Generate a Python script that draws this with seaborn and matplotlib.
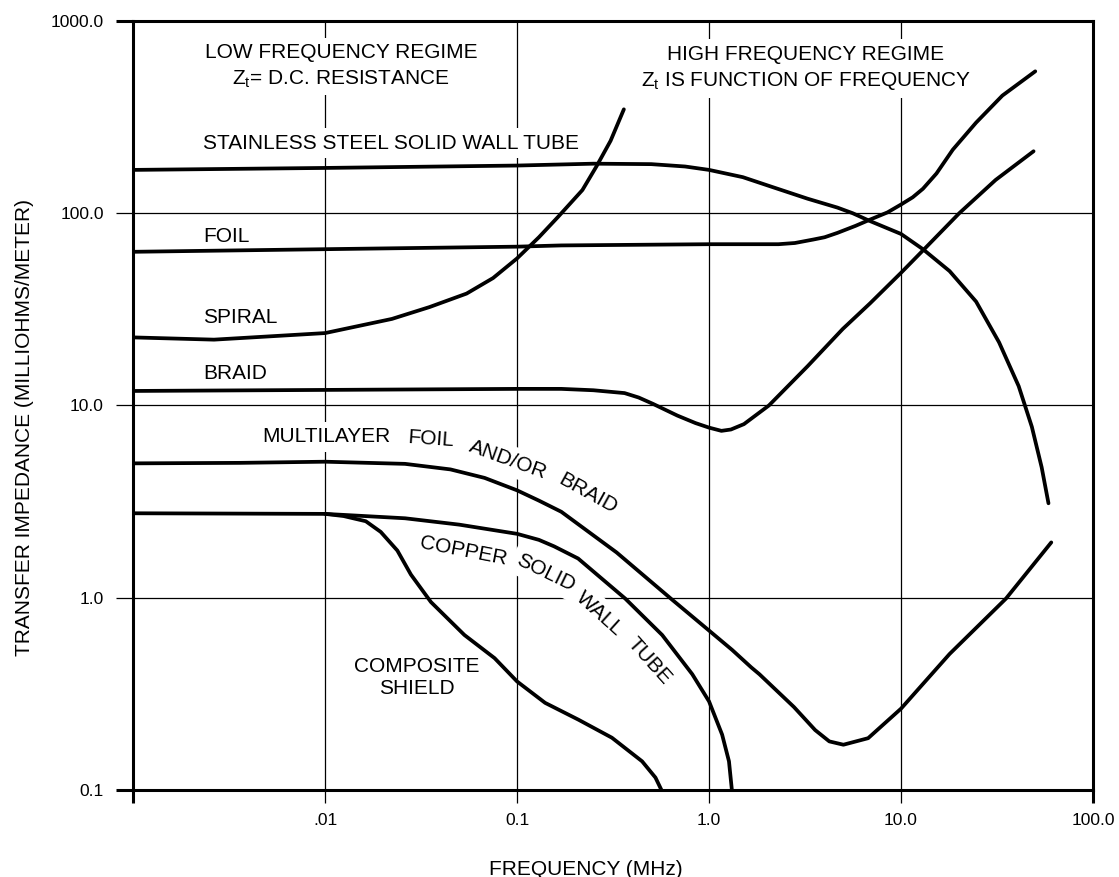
import numpy as np
import pandas as pd
import seaborn as sns
import matplotlib.pyplot as plt
from matplotlib.ticker import NullLocator

# values (frequency in MHz, impedance in milliohms/meter)
ss_f = [0.001, 0.01, 0.1, 0.25, 0.5, 0.75, 1.0, 1.5, 2.13, 3.26, 4.66, 5.6, 6.9, 10, 13, 17.9,
        24.6, 32.4, 41, 48, 54, 58.6]
ss_z = [168, 172, 177, 181, 180, 175, 168, 154, 137, 119, 107, 100, 91, 78, 65, 50,
        34.7, 21.3, 12.6, 7.75, 4.77, 3.1]

foil_f = [0.001, 0.01, 0.1, 0.17, 1.0, 2.3, 2.8, 3.5, 4.0, 4.66, 5.8, 6.96, 8.5, 10, 11.5, 13,
          15.3, 18.6, 24.6, 33.7, 50]
foil_z = [63, 65, 67, 68, 69, 69, 70, 73, 75, 79, 86, 93, 101, 111, 121, 134,
          161, 214, 296, 409, 547]

spiral_f = [0.001, 0.00264, 0.01, 0.0223, 0.035, 0.0546, 0.075, 0.1, 0.13, 0.164, 0.219, 0.259,
            0.307, 0.36]
spiral_z = [22.6, 22.0, 23.8, 28.2, 32.5, 38.2, 46, 58.2, 75, 96, 132, 175, 238, 347]

braid_f = [0.001, 0.1, 0.17, 0.25, 0.363, 0.43, 0.51, 0.684, 0.85, 1.0, 1.16, 1.3, 1.52, 2.05,
           3.26, 4.97, 6.9, 10, 13, 20.1, 31.1, 49]
braid_z = [11.9, 12.2, 12.2, 12.0, 11.6, 11.0, 10.2, 8.86, 8.1, 7.67, 7.38, 7.5, 8.0, 10,
           16, 25, 34, 49, 64, 100, 149, 210]

multi_f = [0.001, 0.0036, 0.01, 0.0261, 0.045, 0.0678, 0.1, 0.13, 0.17, 0.33, 0.64, 1.0, 1.32,
           1.66, 1.83, 2.77, 3.57, 4.23, 5.01, 6.74, 10, 17.9, 35.2, 60.6]
multi_z = [5.0, 5.03, 5.1, 4.97, 4.65, 4.2, 3.62, 3.2, 2.8, 1.72, 0.98, 0.675, 0.535,
           0.434, 0.40, 0.27, 0.205, 0.179, 0.172, 0.186, 0.265, 0.51, 0.99, 1.94]

copper_f = [0.001, 0.01, 0.0261, 0.05, 0.1, 0.13, 0.156, 0.208, 0.366, 0.57, 0.818, 1.0, 1.17,
            1.27, 1.315]
copper_z = [2.75, 2.73, 2.59, 2.4, 2.15, 2.0, 1.85, 1.6, 0.99, 0.64, 0.40, 0.289, 0.194,
            0.141, 0.1]

comp_f = [0.01, 0.0125, 0.0163, 0.0195, 0.0238, 0.028, 0.0356, 0.0532, 0.0764, 0.1, 0.14, 0.209,
          0.312, 0.448, 0.526, 0.565]
comp_z = [2.73, 2.66, 2.5, 2.2, 1.76, 1.32, 0.95, 0.64, 0.485, 0.367, 0.284, 0.232, 0.187, 0.141,
          0.116, 0.1]

x_ticks = [0.001, 0.01, 0.1, 1.0, 10.0, 100.0]
x_tick_labels = ['', '.01', '0.1', '1.0', '10.0', '100.0']
y_ticks = [0.1, 1.0, 10.0, 100.0, 1000.0]
y_tick_labels = ['0.1', '1.0', '10.0', '100.0', '1000.0']

curves = {
    'stainless': (ss_f, ss_z),
    'foil': (foil_f, foil_z),
    'spiral': (spiral_f, spiral_z),
    'braid': (braid_f, braid_z),
    'multilayer': (multi_f, multi_z),
    'copper': (copper_f, copper_z),
    'composite': (comp_f, comp_z),
}

sns.set_style('white')
plt.rcParams['font.family'] = ['Liberation Sans', 'DejaVu Sans']
plt.rcParams['mathtext.fontset'] = 'custom'
plt.rcParams['mathtext.rm'] = 'Liberation Sans'
plt.rcParams['text.color'] = 'black'
plt.rcParams['axes.labelcolor'] = 'black'

fig = plt.figure(figsize=(11.19, 8.77), dpi=100)
ax = fig.add_axes([0.1189, 0.0992, 0.8579, 0.8769])
ax.set_xscale('log')
ax.set_yscale('log')

for name, (f, z) in curves.items():
    df = pd.DataFrame({'freq': f, 'z': z})
    sns.lineplot(data=df, x='freq', y='z', ax=ax, color='black', linewidth=2.7,
                 estimator=None, sort=False, zorder=4, solid_joinstyle='round')

ax.set_xlim(0.001, 100)
ax.set_ylim(0.1, 1000)
ax.set_xticks(x_ticks)
ax.set_xticklabels(x_tick_labels)
ax.set_yticks(y_ticks)
ax.set_yticklabels(y_tick_labels)
ax.xaxis.set_minor_locator(NullLocator())
ax.yaxis.set_minor_locator(NullLocator())

ax.grid(True, which='major', color='black', linewidth=0.9)
ax.set_axisbelow(True)
for sp in ax.spines.values():
    sp.set_visible(True)
    sp.set_color('black')
    sp.set_linewidth(2.2)

ax.tick_params(axis='x', bottom=True, direction='out', length=9.5, width=0.9, pad=7,
               labelsize=12.5, colors='black')
ax.tick_params(axis='y', left=True, direction='out', length=12, width=0.9, pad=9,
               labelsize=12.5, colors='black')
# outer ticks continue the frame, so draw them thick
for t in (ax.xaxis.get_major_ticks()[0], ax.xaxis.get_major_ticks()[-1],
          ax.yaxis.get_major_ticks()[0], ax.yaxis.get_major_ticks()[-1]):
    t.tick1line.set_markeredgewidth(2.2)

ax.set_xlabel('FREQUENCY (MHz)', fontsize=15)
ax.set_ylabel('TRANSFER IMPEDANCE (MILLIOHMS/METER)', fontsize=15)
ax.xaxis.set_label_coords(0.4714, -0.091)
ax.yaxis.set_label_coords(-0.103, 0.471)

box = dict(facecolor='white', edgecolor='none', pad=4)
fs = 15

def label(x, y, s, ha='center', rot=0):
    ax.text(x, y, s, transform=ax.transAxes, ha=ha, va='center', fontsize=fs,
            rotation=rot, rotation_mode='anchor', bbox=box, zorder=3)

label(0.2173, 0.9584, 'LOW FREQUENCY REGIME')
label(0.2167, 0.9246, r'Z$_\mathregular{t}$= D.C. RESISTANCE')
label(0.701, 0.957, 'HIGH FREQUENCY REGIME')
label(0.701, 0.922, r'Z$_\mathregular{t}$ IS FUNCTION OF FREQUENCY')

label(0.073, 0.841, 'STAINLESS STEEL SOLID WALL TUBE', ha='left')
label(0.073, 0.720, 'FOIL', ha='left')
label(0.073, 0.614, 'SPIRAL', ha='left')
label(0.073, 0.542, 'BRAID', ha='left')

label(0.2018, 0.4594, 'MULTILAYER')
label(0.3104, 0.4564, 'FOIL', rot=-4)
label(0.3906, 0.4291, 'AND/OR', rot=-20)
label(0.474, 0.385, 'BRAID', rot=-29)

label(0.3438, 0.3108, 'COPPER', rot=-11)
label(0.430, 0.282, 'SOLID', rot=-26)
label(0.486, 0.229, 'WALL', rot=-42)
label(0.5375, 0.168, 'TUBE', rot=-48)

ax.text(0.2958, 0.146, 'COMPOSITE\nSHIELD', transform=ax.transAxes, ha='center', va='center',
        fontsize=fs, linespacing=1.2, bbox=box, zorder=3)

fig.savefig('out.png', dpi=100, facecolor='white')
